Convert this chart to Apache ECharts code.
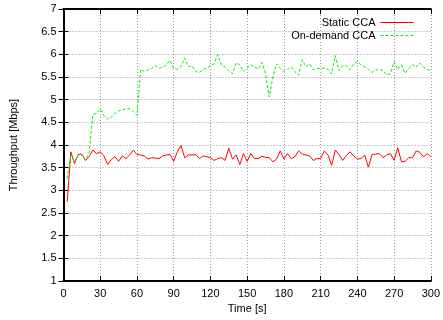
<!DOCTYPE html>
<html>
<head>
<meta charset="utf-8">
<script src="https://cdn.jsdelivr.net/npm/echarts@6/dist/echarts.min.js"></script>
<style>
  html, body { margin: 0; padding: 0; background: #fff; }
  #chart { width: 443px; height: 320px; }
</style>
</head>
<body>
<div id="chart"></div>
<script>
// sample times every 3 s
var times = [];
for (var t = 3; t <= 300; t += 3) times.push(t);

var staticCCA = [
  2.75, 3.85, 3.59, 3.79, 3.80, 3.66, 3.75, 3.89, 3.81, 3.85,
  3.76, 3.57, 3.68, 3.74, 3.64, 3.76, 3.70, 3.78, 3.89, 3.79,
  3.78, 3.76, 3.69, 3.72, 3.71, 3.70, 3.76, 3.78, 3.79, 3.64,
  3.85, 3.99, 3.72, 3.78, 3.78, 3.79, 3.70, 3.76, 3.74, 3.72,
  3.66, 3.70, 3.72, 3.66, 3.93, 3.69, 3.78, 3.57, 3.81, 3.64,
  3.81, 3.70, 3.70, 3.75, 3.73, 3.72, 3.63, 3.69, 3.87, 3.69,
  3.81, 3.70, 3.74, 3.87, 3.80, 3.78, 3.76, 3.66, 3.70, 3.70,
  3.87, 3.78, 3.55, 3.89, 3.79, 3.66, 3.76, 3.85, 3.76, 3.69,
  3.70, 3.78, 3.51, 3.79, 3.80, 3.81, 3.72, 3.78, 3.81, 3.66,
  3.94, 3.63, 3.64, 3.72, 3.72, 3.87, 3.84, 3.74, 3.81, 3.74
];

var onDemandCCA = [
  3.26, 3.80, 3.62, 3.79, 3.78, 3.66, 3.85, 4.67, 4.70, 4.80,
  4.65, 4.57, 4.61, 4.70, 4.75, 4.78, 4.80, 4.80, 4.74, 4.65,
  5.67, 5.62, 5.66, 5.69, 5.75, 5.69, 5.72, 5.76, 5.87, 5.69,
  5.67, 5.73, 5.92, 5.73, 5.75, 5.62, 5.60, 5.67, 5.69, 5.76,
  5.79, 5.99, 5.77, 5.72, 5.64, 5.57, 5.81, 5.77, 5.62, 5.70,
  5.77, 5.73, 5.67, 5.82, 5.58, 5.06, 5.50, 5.79, 5.69, 5.62,
  5.67, 5.72, 5.62, 5.54, 5.88, 5.73, 5.79, 5.66, 5.69, 5.69,
  5.69, 5.67, 5.57, 5.97, 5.64, 5.75, 5.75, 5.66, 5.79, 5.84,
  5.77, 5.72, 5.67, 5.60, 5.65, 5.67, 5.64, 5.54, 5.57, 5.84,
  5.67, 5.77, 5.58, 5.69, 5.77, 5.72, 5.81, 5.72, 5.67, 5.64
];

function pairs(vals) {
  return times.map(function (t, i) { return [t, vals[i]]; });
}

var font = 'Liberation Sans, Arial, sans-serif';
var gridLine = { show: true, lineStyle: { color: '#999', type: [1, 2], width: 1 } };
var border = { show: true, lineStyle: { color: '#000', width: 2 } };
var ticks = { show: true, inside: true, length: 5, lineStyle: { color: '#000' } };
var legendText = { fontSize: 11, color: '#000', fontFamily: font };

var chart = echarts.init(document.getElementById('chart'));

var option = {
  animation: false,
  grid: { left: 63.5, right: 9, top: 9, bottom: 39 },
  textStyle: { fontFamily: font },
  legend: [
    {
      data: ['Static CCA'], right: 24, top: 12, align: 'right',
      itemWidth: 33, itemHeight: 10,
      itemStyle: { opacity: 0 }, lineStyle: { width: 1 },
      textStyle: legendText
    },
    {
      data: ['On-demand CCA'], right: 24, top: 25, align: 'right',
      itemWidth: 33, itemHeight: 10,
      itemStyle: { opacity: 0 }, lineStyle: { width: 1 },
      textStyle: legendText
    }
  ],
  xAxis: [
    {
      type: 'value', min: 0, max: 300, interval: 30,
      name: 'Time [s]', nameLocation: 'middle', nameGap: 20,
      nameTextStyle: { fontSize: 11, color: '#000', fontFamily: font },
      axisLine: border, axisTick: ticks,
      axisLabel: { fontSize: 11, color: '#000', margin: 7, fontFamily: font },
      splitLine: gridLine
    },
    {
      type: 'value', min: 0, max: 300, interval: 30, position: 'top',
      axisLine: border, axisTick: ticks,
      axisLabel: { show: false },
      splitLine: { show: false }
    }
  ],
  yAxis: [
    {
      type: 'value', min: 1, max: 7, interval: 0.5,
      name: 'Throughput [Mbps]', nameLocation: 'middle', nameGap: 44,
      nameTextStyle: { fontSize: 11, color: '#000', fontFamily: font },
      axisLine: border, axisTick: ticks,
      axisLabel: { fontSize: 11, color: '#000', margin: 7, fontFamily: font },
      splitLine: gridLine
    },
    {
      type: 'value', min: 1, max: 7, interval: 0.5, position: 'right',
      axisLine: border, axisTick: ticks,
      axisLabel: { show: false },
      splitLine: { show: false }
    }
  ],
  series: [
    {
      name: 'Static CCA', type: 'line', data: pairs(staticCCA),
      symbol: 'none', color: '#ff0000',
      lineStyle: { width: 1, color: '#ff0000' }
    },
    {
      name: 'On-demand CCA', type: 'line', data: pairs(onDemandCCA),
      symbol: 'none', color: '#00ee00',
      lineStyle: { width: 1, color: '#00ee00', type: [3, 2] }
    }
  ]
};

chart.setOption(option);
</script>
</body>
</html>
